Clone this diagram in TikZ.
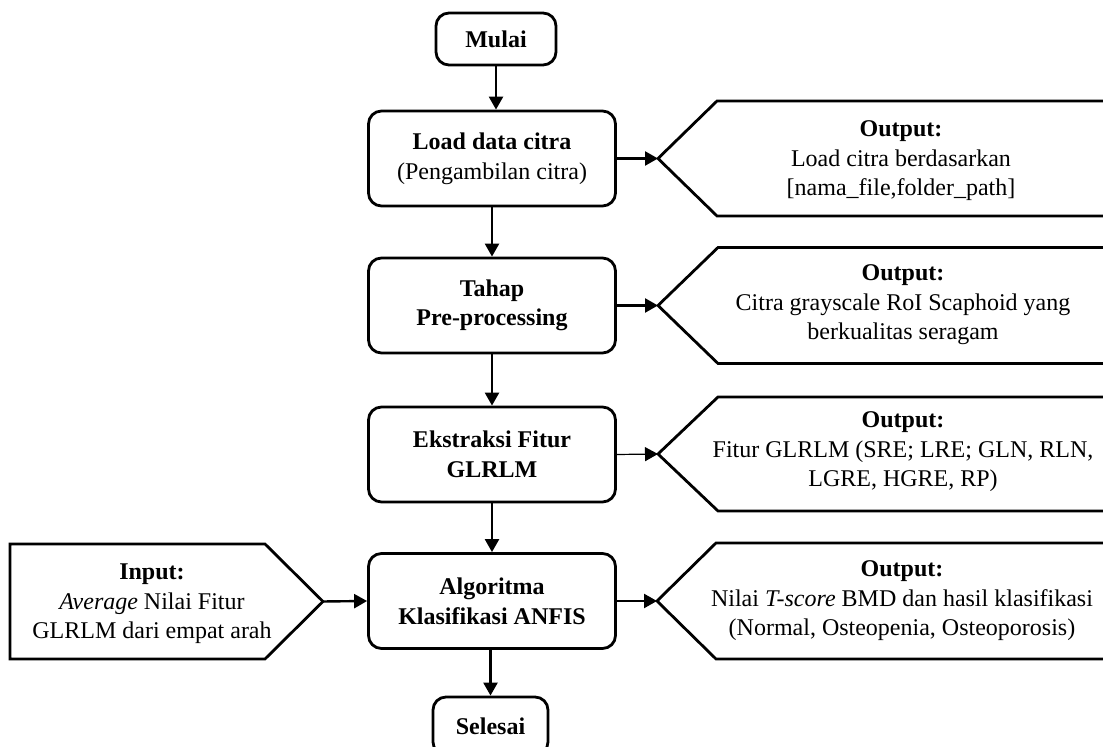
\documentclass[tikz,border=0pt]{standalone}
\usepackage{fontspec}
\setmainfont{Liberation Serif}
\usetikzlibrary{arrows.meta}
\begin{document}
\begin{tikzpicture}[x=0.5pt,y=-0.5pt,
  every node/.style={font=\fontsize{12}{14.8}\selectfont, align=center, inner sep=0pt},
  procbox/.style={draw, line width=1.4pt, rounded corners=6.5pt, minimum width=123.5pt, minimum height=47.5pt, fill=white},
  termbox/.style={procbox, minimum width=60pt, minimum height=26pt},
  iobox/.style={draw, line width=1.4pt, line join=miter},
  flow/.style={line width=1.2pt, -{Triangle[length=6.5pt,width=7pt]}},
  thinflow/.style={flow, line width=0.6pt},
]
\useasboundingbox (0,0) rectangle (1103,747);

% main column of process steps
\node[termbox] (mulai) at (496,39) {\textbf{Mulai}};
\node[procbox] (load) at (492,158.5) {\textbf{Load data citra}\\(Pengambilan citra)};
\node[procbox] (pre) at (492,305.5) {\textbf{Tahap}\\\textbf{Pre-processing}};
\node[procbox] (ekst) at (492,454.5) {\textbf{Ekstraksi Fitur}\\\textbf{GLRLM}};
\node[procbox] (algo) at (492,601) {\textbf{Algoritma}\\\textbf{Klasifikasi ANFIS}};
\node[termbox, minimum width=57.5pt, minimum height=29pt] (selesai) at (490.5,726) {\textbf{Selesai}};

% output shapes (pointing left)
\coordinate (o1tip) at (658,158.5);
\coordinate (o2tip) at (658,305.5);
\coordinate (o3tip) at (658,454);
\coordinate (o4tip) at (657,601);
\draw[iobox] (o1tip) -- ++(59,-57.5) -- ++(420,0) -- ++(0,115) -- ++(-420,0) -- cycle;
\draw[iobox] (o2tip) -- ++(60,-58) -- ++(420,0) -- ++(0,116) -- ++(-420,0) -- cycle;
\draw[iobox] (o3tip) -- ++(60,-57) -- ++(420,0) -- ++(0,114) -- ++(-420,0) -- cycle;
\draw[iobox] (o4tip) -- ++(59,-58) -- ++(420,0) -- ++(0,116) -- ++(-420,0) -- cycle;

\node (out1) at (901,161) {\textbf{Output:}\\Load citra berdasarkan\\{[}nama\_file,folder\_path{]}};
\node (out2) at (903,305) {\textbf{Output:}\\Citra grayscale RoI Scaphoid yang\\berkualitas seragam};
\node (out3) at (903,452) {\textbf{Output:}\\Fitur GLRLM (SRE; LRE; GLN, RLN,\\LGRE, HGRE, RP)};
\node (out4) at (902,601) {\textbf{Output:}\\Nilai \textit{T-score} BMD dan hasil klasifikasi\\(Normal, Osteopenia, Osteoporosis)};

% input shape (pointing right)
\coordinate (intip) at (323,601.5);
\draw[iobox] (intip) -- ++(-58,-57.5) -- ++(-255,0) -- ++(0,115) -- ++(255,0) -- cycle;
\node (in1) at (152,604) {\textbf{Input:}\\\textit{Average} Nilai Fitur\\GLRLM dari empat arah};

% connectors
\draw[flow] (mulai.south) -- (mulai.south |- load.north);
\draw[flow] (load.south) -- (pre.north);
\draw[flow] (pre.south) -- (ekst.north);
\draw[flow] (ekst.south) -- (algo.north);
\draw[flow] (selesai.north |- algo.south) -- (selesai.north);
\draw[flow] (load.east) -- (o1tip);
\draw[flow] (pre.east) -- (o2tip);
\draw[thinflow] (ekst.east) -- (o3tip);
\draw[flow] (algo.east) -- (o4tip);
\draw[flow] (intip) -- (algo.west);
\end{tikzpicture}
\end{document}
